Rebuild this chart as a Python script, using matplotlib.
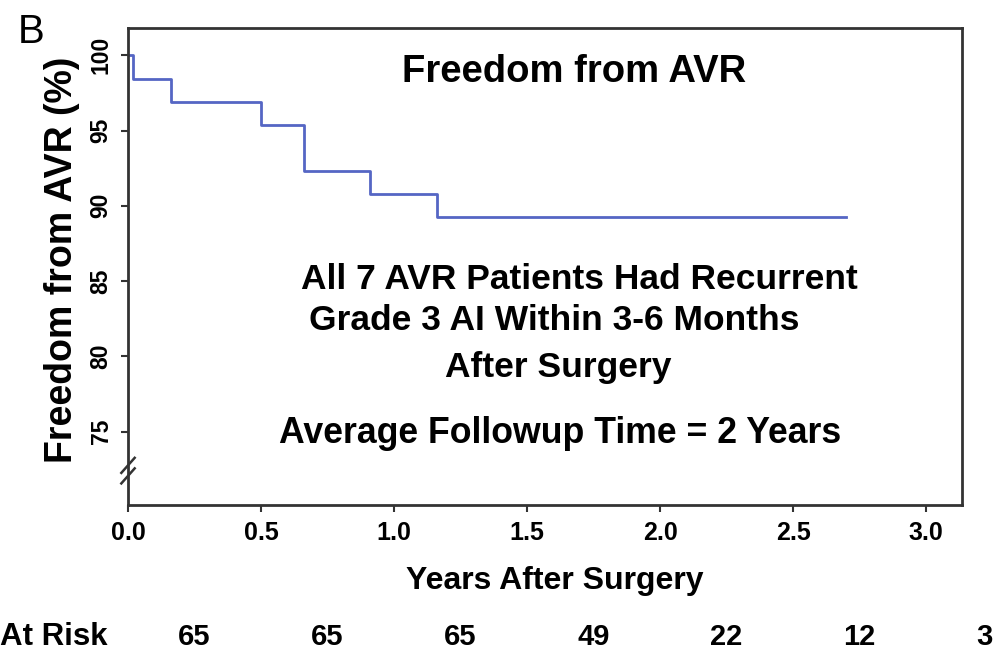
import matplotlib.pyplot as plt
import matplotlib.transforms as mtransforms

plt.rcParams['font.family'] = ['Liberation Sans', 'DejaVu Sans']

# step curve (years, freedom from AVR %)
event_times = [0.0, 0.02, 0.16, 0.50, 0.66, 0.91, 1.16, 2.70]
freedom = [100.0, 98.46, 96.92, 95.38, 92.31, 90.77, 89.23, 89.23]

x_ticks = [0.0, 0.5, 1.0, 1.5, 2.0, 2.5, 3.0]
y_ticks = [75, 80, 85, 90, 95, 100]

risk_times = [0.25, 0.75, 1.25, 1.75, 2.25, 2.75, 3.22]
at_risk = [65, 65, 65, 49, 22, 12, 3]

note_lines = ["All 7 AVR Patients Had Recurrent",
              "Grade 3 AI Within 3-6 Months",
              "After Surgery"]

line_color = "#5566c4"
frame_color = "#333333"

fig = plt.figure(figsize=(10, 6.57), dpi=100)
ax = fig.add_axes([0.128, 0.231, 0.834, 0.726])

ax.step(event_times, freedom, where="post", color=line_color, linewidth=2)

ax.set_xlim(0, 3.135)
ax.set_ylim(70.1, 101.8)
ax.set_xticks(x_ticks)
ax.set_xticklabels([f"{t:.1f}" for t in x_ticks], fontsize=18, fontweight="bold")
ax.set_yticks(y_ticks)
ax.set_yticklabels([str(v) for v in y_ticks], fontsize=16.5, fontweight="bold", rotation=90, va="center")
ax.tick_params(direction="out", length=5, width=1.5, color=frame_color, pad=6)
for s in ax.spines.values():
    s.set_color(frame_color)
    s.set_linewidth(2)

ax.set_xlabel("Years After Surgery", fontsize=23, fontweight="bold")
ax.xaxis.set_label_coords(0.512, -0.128)
ax.set_ylabel("Freedom from AVR (%)", fontsize=27, fontweight="bold")
ax.yaxis.set_label_coords(-0.058, 0.514)

# axis break marks on the left spine
brk = mtransforms.blended_transform_factory(ax.transAxes, ax.transData)
for dy in (-0.35, 0.35):
    ax.plot([-0.008, 0.008], [72.4 + dy - 0.5, 72.4 + dy + 0.5], color=frame_color,
            linewidth=1.8, transform=brk, clip_on=False)

ax.text(0.535, 0.908, "Freedom from AVR", transform=ax.transAxes, ha="center", va="center",
        fontsize=27.5, fontweight="bold")

note_x = [0.541, 0.511, 0.516]
note_y = [0.474, 0.388, 0.289]
for txt, nx, ny in zip(note_lines, note_x, note_y):
    ax.text(nx, ny, txt, transform=ax.transAxes, ha="center", va="center",
            fontsize=25.5, fontweight="bold")
ax.text(0.518, 0.151, "Average Followup Time = 2 Years", transform=ax.transAxes,
        ha="center", va="center", fontsize=25.7, fontweight="bold")

fig.text(0.018, 0.952, "B", fontsize=29, ha="left", va="center")

# at-risk row
risk_tr = mtransforms.blended_transform_factory(ax.transData, fig.transFigure)
fig.text(0.0, 0.03, "At Risk", fontsize=22.5, fontweight="bold", ha="left", va="center")
for t, n in zip(risk_times, at_risk):
    ax.text(t, 0.03, str(n), transform=risk_tr, fontsize=21, fontweight="bold",
            ha="center", va="center", clip_on=False)

fig.savefig("out.png", dpi=100)
